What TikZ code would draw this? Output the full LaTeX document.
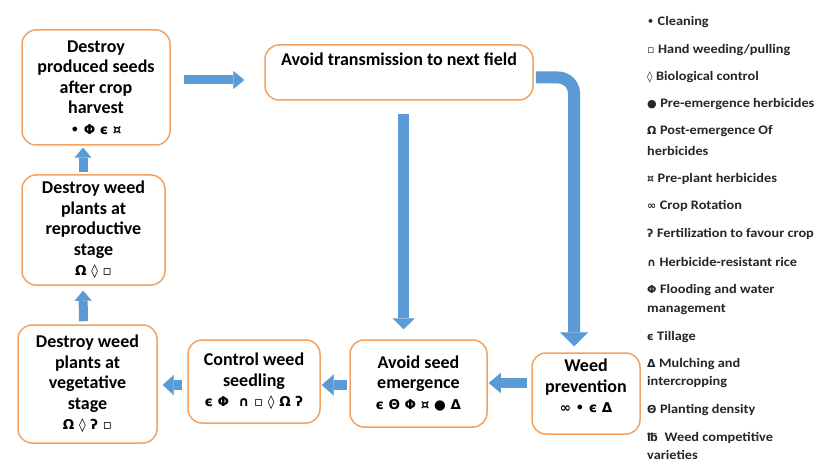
\documentclass[tikz,border=0pt]{standalone}
\usepackage{fontspec}
\setmainfont{Carlito}
\newfontfamily\symf{DejaVu Sans}
\newfontfamily\legfont{Carlito}[FakeStretch=1.1]
\usetikzlibrary{arrows.meta}
\definecolor{boxorange}{HTML}{F4A25E}
\definecolor{arrblue}{HTML}{5B9BD5}
\definecolor{legtext}{HTML}{262626}
\newcommand{\bsy}[1]{{\symf\bfseries\fontsize{13.5}{20.5}\selectfont #1}}
\newcommand{\lsy}[1]{{\symf\bfseries\fontsize{11}{19}\selectfont #1}\hspace{3.5pt}}
\tikzset{
  box/.style={draw=boxorange, line width=1.5pt, rounded corners=14pt, fill=white,
    align=center, font=\bfseries\fontsize{18}{20.5}\selectfont, text=black, inner sep=0pt},
  boxtext/.style={align=center, font=\bfseries\fontsize{18}{20.5}\selectfont, text=black, inner sep=0pt},
  leg/.style={anchor=base west, inner sep=0pt, font=\legfont\bfseries\fontsize{13}{19}\selectfont, text=legtext},
  barrow/.style n args={3}{draw=arrblue, line width=#1,
    -{Triangle[width=#2, length=#3, line width=0.01pt]}}
}
\begin{document}
\begin{tikzpicture}[x=1pt,y=-1pt]
\useasboundingbox[fill=white] (0,0) rectangle (816,462);

% boxes
\node[box, minimum width=148pt, minimum height=115pt] (A) at (96,87.5)
  {Destroy\\produced seeds\\after crop\\harvest\\\bsy{• Φ є ¤}};
\node[box, minimum width=268pt, minimum height=55pt] (G) at (399,72.5)
  {Avoid transmission to next field\\\strut};
\node[box, minimum width=143pt, minimum height=110pt] (B) at (93.5,230)
  {Destroy weed\\plants at\\reproductive\\stage\\\bsy{Ω ◊ ▫}};
\node[box, minimum width=139pt, minimum height=118pt] (C) at (87.5,384)
  {Destroy weed\\plants at\\vegetative\\stage\\\bsy{Ω ◊ ʔ ▫}};
\node[box, minimum width=132pt, minimum height=83pt] (D) at (254,381.5)
  {Control weed\\seedling\\\bsy{є Φ \ ∩ ▫ ◊ Ω ʔ}};
\node[box, minimum width=137pt, minimum height=87pt] (E) at (418.5,383.5)
  {Avoid seed\\emergence\\\bsy{є Θ Φ ¤ ● Δ}};
\node[box, minimum width=108pt, minimum height=81pt] (F) at (586,393.5) {};
\node[boxtext] (Ft) at (586,386) {Weed\\prevention\\\bsy{∞ • є Δ}};

% arrows
\draw[barrow={9pt}{18pt}{11pt}] ([xshift=13pt,yshift=7.5pt]A.east) -- ([xshift=-20pt,yshift=-7.5pt]G.west);
\draw[barrow={11pt}{22pt}{11pt}] ([xshift=4.5pt,yshift=-13pt]G.south) -- ([xshift=-15pt,yshift=10pt]E.north);
\draw[barrow={12pt}{28pt}{14pt}, rounded corners=16pt] ([xshift=2pt,yshift=-5pt]G.east) -| ([xshift=-12pt,yshift=6pt]F.north);
\draw[barrow={10pt}{20pt}{12pt}] ([xshift=-4pt,yshift=10.5pt]F.west) -- ([xshift=1pt,yshift=0.5pt]E.east);
\draw[barrow={10pt}{21pt}{12pt}] ([xshift=-2pt,yshift=-1.5pt]E.west) -- ([xshift=1pt,yshift=-3.5pt]D.east);
\draw[barrow={10pt}{20pt}{11pt}] ([xshift=-5pt,yshift=-3.5pt]D.west) -- ([xshift=5pt,yshift=-1pt]C.east);
\draw[barrow={9pt}{17pt}{10pt}] ([xshift=-4pt,yshift=3pt]C.north) -- ([xshift=-10.5pt,yshift=-5pt]B.south);
\draw[barrow={9pt}{17pt}{10pt}] ([xshift=-10.5pt,yshift=2pt]B.north) -- ([xshift=-13pt,yshift=-2pt]A.south);

% legend
\node[leg] (L1) at (647,26) {\lsy{•}Cleaning};
\node[leg] (L2) at (647,54) {\lsy{▫}Hand weeding/pulling};
\node[leg] (L3) at (647,81) {\lsy{◊}Biological control};
\node[leg] (L4) at (647,108) {\lsy{●}Pre-emergence herbicides};
\node[leg] (L5) at (647,135) {\lsy{Ω}Post-emergence Of};
\node[leg] (L5b) at (647,156) {herbicides};
\node[leg] (L6) at (647,183) {\lsy{¤}Pre-plant herbicides};
\node[leg] (L7) at (647,210) {\lsy{∞}Crop Rotation};
\node[leg] (L8) at (647,238) {\lsy{ʔ}Fertilization to favour crop};
\node[leg] (L9) at (647,266) {\lsy{∩}Herbicide-resistant rice};
\node[leg] (L10) at (647,294) {\lsy{Φ}Flooding and water};
\node[leg] (L10b) at (647,312) {management};
\node[leg] (L11) at (647,340) {\lsy{є}Tillage};
\node[leg] (L12) at (647,367) {\lsy{Δ}Mulching and};
\node[leg] (L12b) at (647,385) {intercropping};
\node[leg] (L13) at (647,413) {\lsy{Θ}Planting density};
\node[leg] (L14) at (647,441) {\lsy{℔}\ Weed competitive};
\node[leg] (L14b) at (647,459) {varieties};
\end{tikzpicture}
\end{document}
